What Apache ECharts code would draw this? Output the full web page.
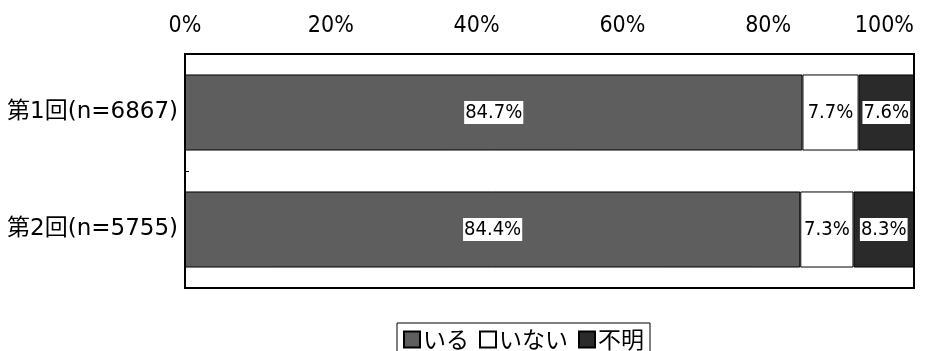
<!DOCTYPE html>
<html>
<head>
<meta charset="utf-8">
<script src="https://cdn.jsdelivr.net/npm/echarts@6/dist/echarts.min.js"></script>
<style>
  html, body { margin: 0; padding: 0; background: #fff; }
  #chart { width: 939px; height: 351px; }
</style>
</head>
<body>
<div id="chart"></div>
<script>
// 調査回
const categories = ['第1回(n=6867)', '第2回(n=5755)']
// 回答の割合 (%)
const iru = [84.7, 84.4]
const inai = [7.7, 7.3]
const fumei = [7.6, 8.3]
const tickLabels = ['0%', '20%', '40%', '60%', '80%', '100%']

const labelFont = "'Liberation Sans Narrow', 'DejaVu Sans Condensed', 'Roboto', sans-serif"
const catFont = "'DejaVu Sans', 'Noto Sans CJK JP', sans-serif"
const jpFont = "'Noto Sans CJK JP', sans-serif"

function seg (name, data, color) {
  return {
    name: name,
    type: 'bar',
    stack: 'total',
    barWidth: '65%',
    data: data,
    itemStyle: {
      color: color,
      borderColor: '#000',
      borderWidth: 1
    },
    label: {
      show: true,
      position: 'inside',
      formatter: function (p) { return p.value.toFixed(1) + '%' },
      color: '#000',
      backgroundColor: '#fff',
      padding: [2, 1, 1, 1],
      fontFamily: labelFont,
      fontSize: 20
    }
  }
}

const myChart = echarts.init(document.getElementById('chart'))
myChart.setOption({
  animation: false,
  grid: {
    left: 185,
    right: 25,
    top: 54,
    bottom: 63,
    show: true,
    borderColor: '#000',
    borderWidth: 2,
    backgroundColor: '#fff'
  },
  legend: {
    bottom: -6,
    left: 397,
    icon: 'rect',
    itemWidth: 16,
    itemHeight: 16,
    itemGap: 10,
    padding: [5, 6, 6, 6],
    borderColor: '#000',
    borderWidth: 1,
    textStyle: { fontFamily: jpFont, fontSize: 23, color: '#000', padding: [0, 0, 0, -2] },
    data: ['いる', 'いない', '不明']
  },
  xAxis: {
    type: 'value',
    position: 'top',
    min: 0,
    max: 100,
    interval: 20,
    axisLine: { show: false },
    axisTick: { show: false },
    splitLine: { show: false },
    axisLabel: {
      margin: 16,
      color: '#000',
      fontFamily: labelFont,
      fontSize: 23,
      alignMaxLabel: 'right',
      formatter: function (v) { return tickLabels[v / 20] }
    }
  },
  yAxis: {
    type: 'category',
    inverse: true,
    data: categories,
    axisLine: { show: true, lineStyle: { color: '#000', width: 2 } },
    axisTick: { show: true, length: 4, inside: true, lineStyle: { color: '#000' } },
    axisLabel: {
      margin: 7,
      color: '#000',
      fontFamily: catFont,
      fontSize: 23
    }
  },
  series: [
    seg('いる', iru, '#5e5e5e'),
    seg('いない', inai, '#ffffff'),
    seg('不明', fumei, '#2a2a2a')
  ]
})
</script>
</body>
</html>
